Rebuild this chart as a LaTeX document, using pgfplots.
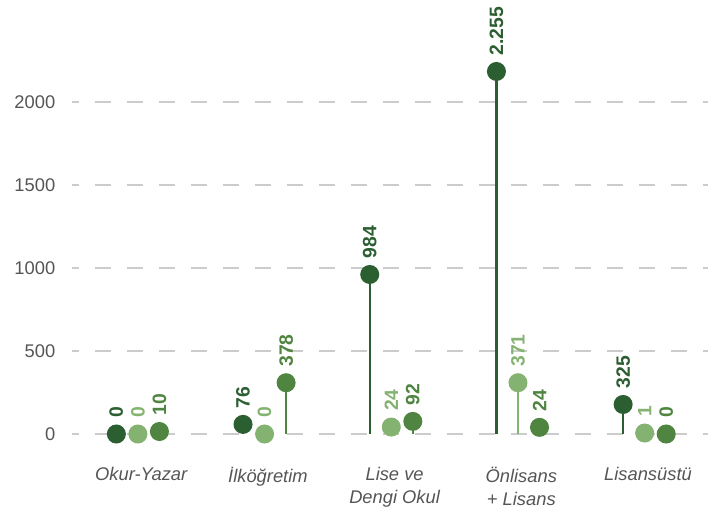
\documentclass[border=0pt]{standalone}
\usepackage{fontspec}
\setmainfont{Liberation Sans}
\usepackage{pgfplots}
\pgfplotsset{compat=1.18}
\definecolor{cdark}{HTML}{2B5E31}
\definecolor{clight}{HTML}{84B371}
\definecolor{cmid}{HTML}{4F8540}
\definecolor{cgrid}{HTML}{CCCCCC}
\definecolor{ctext}{HTML}{555555}
\begin{document}
\begin{tikzpicture}
\begin{axis}[
  scale only axis,
  width=381.6pt, height=258.96pt,
  xmin=-0.52, xmax=4.5,
  ymin=-100, ymax=2500,
  axis line style={draw=none},
  tick style={draw=none},
  major tick length=0pt,
  xtick={0,1,2,3,4},
  xticklabels={Okur-Yazar, İlköğretim, Lise ve\\Dengi Okul, Önlisans\\+ Lisans, Lisansüstü},
  xticklabel style={font=\fontsize{11}{13.9}\selectfont\itshape, text=ctext, align=center, anchor=north, yshift=-6.2pt, xshift=2pt},
  ytick={0,500,1000,1500,2000},
  yticklabel style={font=\fontsize{11}{13}\selectfont, text=ctext, anchor=east, xshift=-6.5pt},
  /pgf/number format/assume math mode=true,
  /pgf/number format/1000 sep={},
  ymajorgrids,
  grid style={draw=cgrid, line width=1.2pt, dash pattern=on 9.6pt off 9.6pt, dash phase=5.4pt},
  point meta=explicit symbolic,
  nodes near coords,
  every node near coord/.style={rotate=90, anchor=west, inner xsep=9pt, inner ysep=0pt, font=\fontsize{11.6}{13}\selectfont\bfseries},
]
\addplot[ycomb, draw=cdark, line width=1.4pt, mark=*, mark size=5pt, mark options={solid, fill=cdark, draw=cdark},
  every node near coord/.append style={text=cdark}]
  table[x=x, y=y, meta=lab] {
x y lab
-0.17 0 0
0.83 58 76
1.83 961 984
2.83 2184 2.255
3.83 178 325
};
\addplot[ycomb, draw=clight, line width=1.4pt, mark=*, mark size=5pt, mark options={solid, fill=clight, draw=clight},
  every node near coord/.append style={text=clight}]
  table[x=x, y=y, meta=lab] {
x y lab
0 0 0
1 0 0
2 42 24
3 309 371
4 6 1
};
\addplot[ycomb, draw=cmid, line width=1.4pt, mark=*, mark size=5pt, mark options={solid, fill=cmid, draw=cmid},
  every node near coord/.append style={text=cmid}]
  table[x=x, y=y, meta=lab] {
x y lab
0.17 15 10
1.17 309 378
2.17 76 92
3.17 40 24
4.17 0 0
};
\end{axis}
\pgfresetboundingbox
\path[use as bounding box] ([xshift=-43.2pt, yshift=-35.04pt]current axis.south west) rectangle ([yshift=11.4pt]current axis.north east);
\end{tikzpicture}
\end{document}
